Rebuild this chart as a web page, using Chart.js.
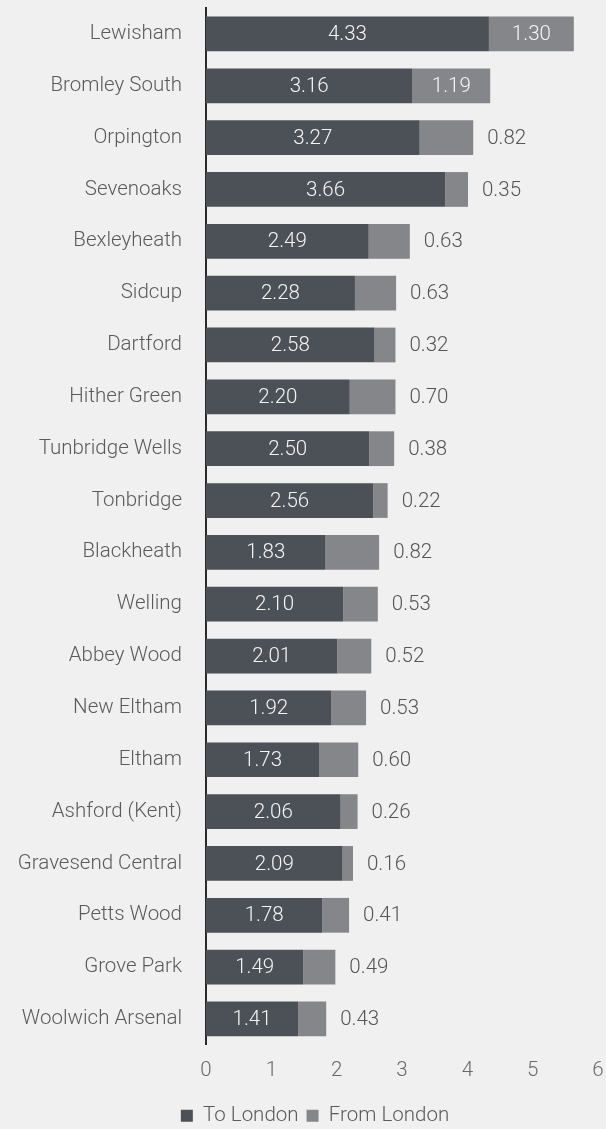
<!DOCTYPE html>
<html>
<head>
<meta charset="utf-8">
<script src="https://cdn.jsdelivr.net/npm/chart.js@4/dist/chart.umd.min.js"></script>
<style>
	html, body { margin: 0; padding: 0; background: #eff0ef; }
	#wrap { width: 606px; height: 1129px; }
</style>
</head>
<body>
<div id="wrap"><canvas id="chart"></canvas></div>
<script>
const stations = [
	`Lewisham`, `Bromley South`, `Orpington`, `Sevenoaks`, `Bexleyheath`,
	`Sidcup`, `Dartford`, `Hither Green`, `Tunbridge Wells`, `Tonbridge`,
	`Blackheath`, `Welling`, `Abbey Wood`, `New Eltham`, `Eltham`,
	`Ashford (Kent)`, `Gravesend Central`, `Petts Wood`, `Grove Park`, `Woolwich Arsenal`,
];
const toLondon = [
	4.33, 3.16, 3.27, 3.66, 2.49, 2.28, 2.58, 2.20, 2.50, 2.56,
	1.83, 2.10, 2.01, 1.92, 1.73, 2.06, 2.09, 1.78, 1.49, 1.41,
];
const fromLondon = [
	1.30, 1.19, 0.82, 0.35, 0.63, 0.63, 0.32, 0.70, 0.38, 0.22,
	0.82, 0.53, 0.52, 0.53, 0.60, 0.26, 0.16, 0.41, 0.49, 0.43,
];
const seriesNames = [`To London`, `From London`];

const FONT = `Roboto`;
const DARK = `#4c5057`;
const LIGHT = `#85868a`;

// values on the bars: inside in white, or to the right of short segments
const valueLabels = {
	id: `valueLabels`,
	afterDatasetsDraw(chart) {
		const ctx = chart.ctx;
		ctx.save();
		ctx.font = `300 20.5px ${FONT}`;
		ctx.textBaseline = `middle`;
		chart.data.datasets.forEach((ds, di) => {
			const meta = chart.getDatasetMeta(di);
			meta.data.forEach((bar, i) => {
				const v = ds.data[i];
				const txt = v.toFixed(2);
				const inside = di === 0 || v >= 1;
				if (inside) {
					ctx.fillStyle = `#f4f4f4`;
					ctx.textAlign = `center`;
					ctx.fillText(txt, (bar.base + bar.x) / 2, bar.y + 1);
				} else {
					ctx.fillStyle = `#555555`;
					ctx.textAlign = `left`;
					ctx.fillText(txt, bar.x + 14, bar.y + 1);
				};
			});
		});
		ctx.restore();
	},
};

new Chart(document.getElementById(`chart`), {
	type: `bar`,
	data: {
		labels: stations,
		datasets: [
			{ label: seriesNames[0], data: toLondon, backgroundColor: DARK },
			{ label: seriesNames[1], data: fromLondon, backgroundColor: LIGHT },
		],
	},
	options: {
		indexAxis: `y`,
		responsive: true,
		maintainAspectRatio: false,
		animation: false,
		categoryPercentage: 1,
		barPercentage: 0.67,
		layout: {
			padding: { left: 32, right: 8, top: 8, bottom: -7 },
		},
		font: { family: FONT, size: 20, weight: 300 },
		scales: {
			x: {
				stacked: true,
				min: 0,
				max: 6,
				grid: { display: false, drawTicks: false },
				border: { display: false },
				ticks: {
					stepSize: 1,
					padding: 14,
					color: `#6a6a6a`,
					font: { family: FONT, size: 20.5, weight: 300 },
				},
				afterFit(scale) {
					scale.paddingRight = 0;
					scale.paddingLeft = 0;
				},
			},
			y: {
				stacked: true,
				grid: { display: false, drawTicks: false },
				border: { display: true, color: `#2a2a2a`, width: 2 },
				ticks: {
					padding: 24,
					color: `#5a5a5a`,
					font: { family: FONT, size: 20.5, weight: 300 },
				},
				afterFit(scale) {
					scale.width = 174;
					scale.paddingTop = 0;
					scale.paddingBottom = 0;
					// long station names run left of the padded scale box
					scale._computeLabelArea = () => undefined;
				},
			},
		},
		plugins: {
			legend: {
				position: `bottom`,
				labels: {
					boxWidth: 12,
					boxHeight: 12,
					padding: 8,
					color: `#5a5a5a`,
					font: { family: FONT, size: 20.5, weight: 300 },
				},
			},
			tooltip: { enabled: false },
		},
	},
	plugins: [valueLabels],
});
</script>
</body>
</html>
